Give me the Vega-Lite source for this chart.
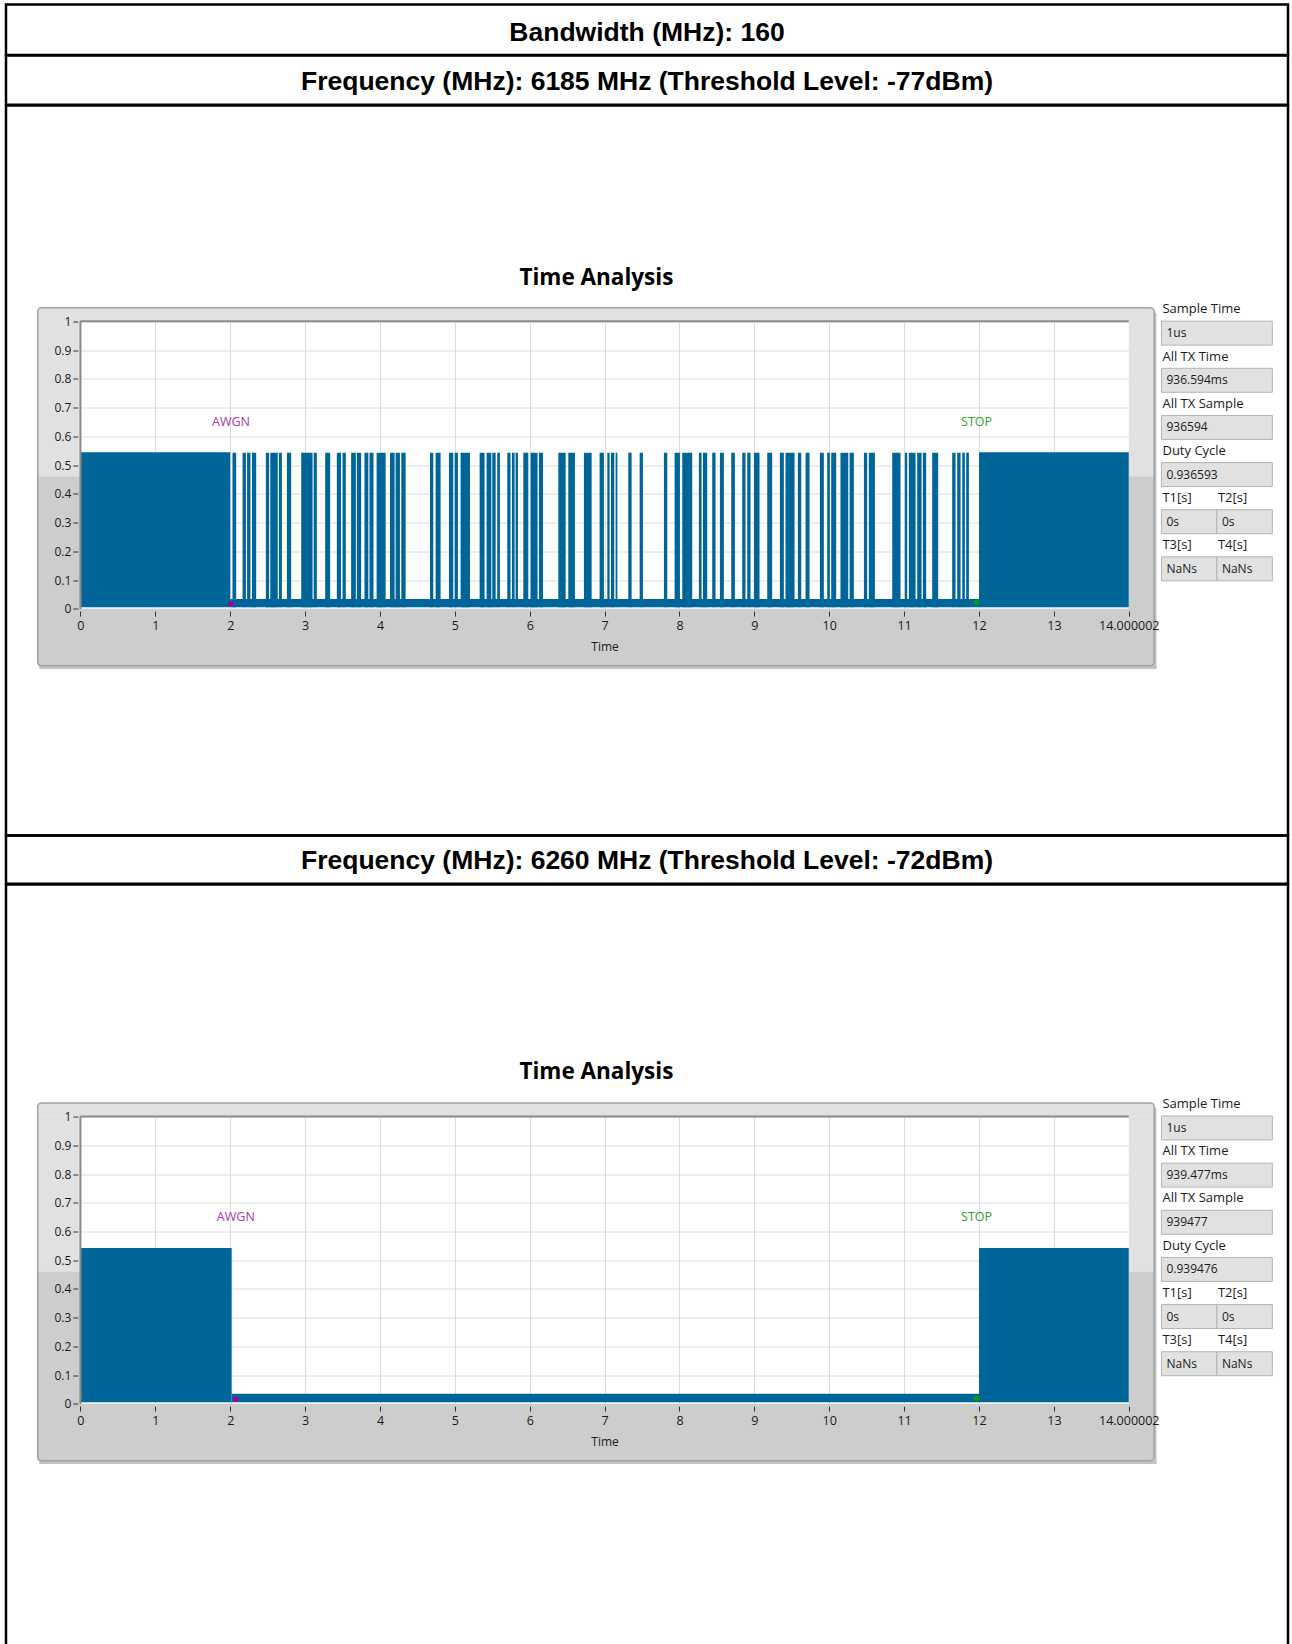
{
  "$schema": "https://vega.github.io/schema/vega-lite/v6.json",
  "background": "white",
  "padding": {"left": 4, "top": 2.5, "right": 0, "bottom": 0},
  "spacing": 0,
  "bounds": "flush",
  "config": {
    "font": "Open Sans",
    "view": {"stroke": "#000000", "strokeWidth": 2.5},
    "axis": {"labelFont": "Open Sans", "labelFontSize": 12, "labelColor": "#1a1a1a", "titleFont": "Open Sans", "titleFontSize": 12, "titleFontWeight": "normal", "titleColor": "#1a1a1a"}
  },
  "datasets": {
    "trace": [
      {"freq": 6185, "t0": 0, "t1": 2.0, "lo": 0.006, "hi": 0.545},
      {"freq": 6185, "t0": 2.0, "t1": 12.0, "lo": 0.006, "hi": 0.034},
      {"freq": 6185, "t0": 2.03, "t1": 2.08, "lo": 0.006, "hi": 0.543},
      {"freq": 6185, "t0": 2.165, "t1": 2.21, "lo": 0.006, "hi": 0.543},
      {"freq": 6185, "t0": 2.225, "t1": 2.27, "lo": 0.006, "hi": 0.543},
      {"freq": 6185, "t0": 2.29, "t1": 2.347, "lo": 0.006, "hi": 0.543},
      {"freq": 6185, "t0": 2.476, "t1": 2.52, "lo": 0.006, "hi": 0.543},
      {"freq": 6185, "t0": 2.535, "t1": 2.635, "lo": 0.006, "hi": 0.543},
      {"freq": 6185, "t0": 2.65, "t1": 2.69, "lo": 0.006, "hi": 0.543},
      {"freq": 6185, "t0": 2.757, "t1": 2.814, "lo": 0.006, "hi": 0.543},
      {"freq": 6185, "t0": 2.948, "t1": 3.1, "lo": 0.006, "hi": 0.543},
      {"freq": 6185, "t0": 3.115, "t1": 3.157, "lo": 0.006, "hi": 0.543},
      {"freq": 6185, "t0": 3.268, "t1": 3.335, "lo": 0.006, "hi": 0.543},
      {"freq": 6185, "t0": 3.424, "t1": 3.48, "lo": 0.006, "hi": 0.543},
      {"freq": 6185, "t0": 3.5, "t1": 3.544, "lo": 0.006, "hi": 0.543},
      {"freq": 6185, "t0": 3.615, "t1": 3.678, "lo": 0.006, "hi": 0.543},
      {"freq": 6185, "t0": 3.691, "t1": 3.749, "lo": 0.006, "hi": 0.543},
      {"freq": 6185, "t0": 3.793, "t1": 3.845, "lo": 0.006, "hi": 0.543},
      {"freq": 6185, "t0": 3.86, "t1": 3.914, "lo": 0.006, "hi": 0.543},
      {"freq": 6185, "t0": 3.955, "t1": 4.076, "lo": 0.006, "hi": 0.543},
      {"freq": 6185, "t0": 4.134, "t1": 4.196, "lo": 0.006, "hi": 0.543},
      {"freq": 6185, "t0": 4.209, "t1": 4.267, "lo": 0.006, "hi": 0.543},
      {"freq": 6185, "t0": 4.285, "t1": 4.343, "lo": 0.006, "hi": 0.543},
      {"freq": 6185, "t0": 4.668, "t1": 4.712, "lo": 0.006, "hi": 0.543},
      {"freq": 6185, "t0": 4.743, "t1": 4.81, "lo": 0.006, "hi": 0.543},
      {"freq": 6185, "t0": 4.921, "t1": 4.979, "lo": 0.006, "hi": 0.543},
      {"freq": 6185, "t0": 4.997, "t1": 5.041, "lo": 0.006, "hi": 0.543},
      {"freq": 6185, "t0": 5.077, "t1": 5.202, "lo": 0.006, "hi": 0.543},
      {"freq": 6185, "t0": 5.331, "t1": 5.397, "lo": 0.006, "hi": 0.543},
      {"freq": 6185, "t0": 5.424, "t1": 5.487, "lo": 0.006, "hi": 0.543},
      {"freq": 6185, "t0": 5.5, "t1": 5.545, "lo": 0.006, "hi": 0.543},
      {"freq": 6185, "t0": 5.566, "t1": 5.602, "lo": 0.006, "hi": 0.543},
      {"freq": 6185, "t0": 5.7, "t1": 5.744, "lo": 0.006, "hi": 0.543},
      {"freq": 6185, "t0": 5.762, "t1": 5.798, "lo": 0.006, "hi": 0.543},
      {"freq": 6185, "t0": 5.811, "t1": 5.843, "lo": 0.006, "hi": 0.543},
      {"freq": 6185, "t0": 5.914, "t1": 5.981, "lo": 0.006, "hi": 0.543},
      {"freq": 6185, "t0": 6.012, "t1": 6.105, "lo": 0.006, "hi": 0.543},
      {"freq": 6185, "t0": 6.123, "t1": 6.177, "lo": 0.006, "hi": 0.543},
      {"freq": 6185, "t0": 6.382, "t1": 6.48, "lo": 0.006, "hi": 0.543},
      {"freq": 6185, "t0": 6.515, "t1": 6.604, "lo": 0.006, "hi": 0.543},
      {"freq": 6185, "t0": 6.724, "t1": 6.827, "lo": 0.006, "hi": 0.543},
      {"freq": 6185, "t0": 6.933, "t1": 6.991, "lo": 0.006, "hi": 0.543},
      {"freq": 6185, "t0": 7.036, "t1": 7.067, "lo": 0.006, "hi": 0.543},
      {"freq": 6185, "t0": 7.085, "t1": 7.129, "lo": 0.006, "hi": 0.543},
      {"freq": 6185, "t0": 7.147, "t1": 7.17, "lo": 0.006, "hi": 0.543},
      {"freq": 6185, "t0": 7.316, "t1": 7.361, "lo": 0.006, "hi": 0.543},
      {"freq": 6185, "t0": 7.468, "t1": 7.512, "lo": 0.006, "hi": 0.543},
      {"freq": 6185, "t0": 7.792, "t1": 7.837, "lo": 0.006, "hi": 0.543},
      {"freq": 6185, "t0": 7.935, "t1": 8.006, "lo": 0.006, "hi": 0.543},
      {"freq": 6185, "t0": 8.037, "t1": 8.17, "lo": 0.006, "hi": 0.543},
      {"freq": 6185, "t0": 8.259, "t1": 8.295, "lo": 0.006, "hi": 0.543},
      {"freq": 6185, "t0": 8.313, "t1": 8.37, "lo": 0.006, "hi": 0.543},
      {"freq": 6185, "t0": 8.437, "t1": 8.482, "lo": 0.006, "hi": 0.543},
      {"freq": 6185, "t0": 8.54, "t1": 8.593, "lo": 0.006, "hi": 0.543},
      {"freq": 6185, "t0": 8.691, "t1": 8.74, "lo": 0.006, "hi": 0.543},
      {"freq": 6185, "t0": 8.838, "t1": 8.882, "lo": 0.006, "hi": 0.543},
      {"freq": 6185, "t0": 8.905, "t1": 8.949, "lo": 0.006, "hi": 0.543},
      {"freq": 6185, "t0": 8.994, "t1": 9.069, "lo": 0.006, "hi": 0.543},
      {"freq": 6185, "t0": 9.172, "t1": 9.238, "lo": 0.006, "hi": 0.543},
      {"freq": 6185, "t0": 9.341, "t1": 9.394, "lo": 0.006, "hi": 0.543},
      {"freq": 6185, "t0": 9.416, "t1": 9.537, "lo": 0.006, "hi": 0.543},
      {"freq": 6185, "t0": 9.581, "t1": 9.626, "lo": 0.006, "hi": 0.543},
      {"freq": 6185, "t0": 9.684, "t1": 9.737, "lo": 0.006, "hi": 0.543},
      {"freq": 6185, "t0": 9.875, "t1": 9.928, "lo": 0.006, "hi": 0.543},
      {"freq": 6185, "t0": 9.973, "t1": 10.008, "lo": 0.006, "hi": 0.543},
      {"freq": 6185, "t0": 10.026, "t1": 10.093, "lo": 0.006, "hi": 0.543},
      {"freq": 6185, "t0": 10.15, "t1": 10.254, "lo": 0.006, "hi": 0.543},
      {"freq": 6185, "t0": 10.272, "t1": 10.329, "lo": 0.006, "hi": 0.543},
      {"freq": 6185, "t0": 10.463, "t1": 10.507, "lo": 0.006, "hi": 0.543},
      {"freq": 6185, "t0": 10.529, "t1": 10.61, "lo": 0.006, "hi": 0.543},
      {"freq": 6185, "t0": 10.841, "t1": 10.952, "lo": 0.006, "hi": 0.543},
      {"freq": 6185, "t0": 11.01, "t1": 11.041, "lo": 0.006, "hi": 0.543},
      {"freq": 6185, "t0": 11.063, "t1": 11.153, "lo": 0.006, "hi": 0.543},
      {"freq": 6185, "t0": 11.175, "t1": 11.233, "lo": 0.006, "hi": 0.543},
      {"freq": 6185, "t0": 11.25, "t1": 11.295, "lo": 0.006, "hi": 0.543},
      {"freq": 6185, "t0": 11.375, "t1": 11.455, "lo": 0.006, "hi": 0.543},
      {"freq": 6185, "t0": 11.642, "t1": 11.687, "lo": 0.006, "hi": 0.543},
      {"freq": 6185, "t0": 11.709, "t1": 11.754, "lo": 0.006, "hi": 0.543},
      {"freq": 6185, "t0": 11.776, "t1": 11.811, "lo": 0.006, "hi": 0.543},
      {"freq": 6185, "t0": 11.829, "t1": 11.865, "lo": 0.006, "hi": 0.543},
      {"freq": 6185, "t0": 12.0, "t1": 14.000002, "lo": 0.006, "hi": 0.545},
      {"freq": 6260, "t0": 0, "t1": 2.02, "lo": 0.006, "hi": 0.543},
      {"freq": 6260, "t0": 2.02, "t1": 12.0, "lo": 0.006, "hi": 0.035},
      {"freq": 6260, "t0": 12.0, "t1": 14.000002, "lo": 0.006, "hi": 0.543}
    ],
    "markers": [
      {"freq": 6185, "name": "AWGN", "t": 2.01, "level": 0.017},
      {"freq": 6185, "name": "STOP", "t": 11.967, "level": 0.023},
      {"freq": 6260, "name": "AWGN", "t": 2.075, "level": 0.016},
      {"freq": 6260, "name": "STOP", "t": 11.967, "level": 0.02}
    ],
    "panel": [
      {"freq": 6185, "item": "Sample Time", "value": "1us", "group": "Sample Time", "side": "L", "span": "full"},
      {"freq": 6185, "item": "All TX Time", "value": "936.594ms", "group": "All TX Time", "side": "L", "span": "full"},
      {"freq": 6185, "item": "All TX Sample", "value": "936594", "group": "All TX Sample", "side": "L", "span": "full"},
      {"freq": 6185, "item": "Duty Cycle", "value": "0.936593", "group": "Duty Cycle", "side": "L", "span": "full"},
      {"freq": 6185, "item": "T1[s]", "value": "0s", "group": "T1/T2", "side": "L", "span": "half"},
      {"freq": 6185, "item": "T2[s]", "value": "0s", "group": "T1/T2", "side": "R", "span": "half"},
      {"freq": 6185, "item": "T3[s]", "value": "NaNs", "group": "T3/T4", "side": "L", "span": "half"},
      {"freq": 6185, "item": "T4[s]", "value": "NaNs", "group": "T3/T4", "side": "R", "span": "half"},
      {"freq": 6260, "item": "Sample Time", "value": "1us", "group": "Sample Time", "side": "L", "span": "full"},
      {"freq": 6260, "item": "All TX Time", "value": "939.477ms", "group": "All TX Time", "side": "L", "span": "full"},
      {"freq": 6260, "item": "All TX Sample", "value": "939477", "group": "All TX Sample", "side": "L", "span": "full"},
      {"freq": 6260, "item": "Duty Cycle", "value": "0.939476", "group": "Duty Cycle", "side": "L", "span": "full"},
      {"freq": 6260, "item": "T1[s]", "value": "0s", "group": "T1/T2", "side": "L", "span": "half"},
      {"freq": 6260, "item": "T2[s]", "value": "0s", "group": "T1/T2", "side": "R", "span": "half"},
      {"freq": 6260, "item": "T3[s]", "value": "NaNs", "group": "T3/T4", "side": "L", "span": "half"},
      {"freq": 6260, "item": "T4[s]", "value": "NaNs", "group": "T3/T4", "side": "R", "span": "half"}
    ]
  },
  "vconcat": [
    {
      "width": 1282, "height": 50.4,
      "view": {"stroke": "#000000", "strokeWidth": 2.5},
      "data": {"values": [{"label": "Bandwidth (MHz): 160"}]},
      "mark": {"type": "text", "font": "Liberation Sans", "fontWeight": "bold", "fontSize": 26.5, "color": "#000000", "dy": 3},
      "encoding": {"text": {"field": "label", "type": "nominal"}}
    },
    {
      "width": 1282, "height": 49.3,
      "view": {"stroke": "#000000", "strokeWidth": 2.5},
      "data": {"values": [{"label": "Frequency (MHz): 6185 MHz (Threshold Level: -77dBm)"}]},
      "mark": {"type": "text", "font": "Liberation Sans", "fontWeight": "bold", "fontSize": 26.5, "color": "#000000", "dy": 2},
      "encoding": {"text": {"field": "label", "type": "nominal"}}
    },
    {
      "width": 1282, "height": 729.9,
      "resolve": {"scale": {"x": "independent", "y": "independent"}, "axis": {"x": "independent", "y": "independent"}},
      "layer": [
        {
          "resolve": {"axis": {"x": "independent", "y": "independent"}},
          "layer": [
            {"data": {"values": [{}]}, "mark": {"type": "rect", "color": "#e1e1e1"},
             "encoding": {
               "x": {"datum": -0.571, "type": "quantitative", "scale": {"domain": [0, 14.000002], "range": [74.45, 1122.75], "nice": false, "zero": false},
                     "axis": {"orient": "top", "values": [0,1,2,3,4,5,6,7,8,9,10,11,12,13,14.000002], "grid": true, "gridColor": "#dcdcdc", "labels": false, "ticks": false, "domain": false, "title": null, "zindex": 0}},
               "x2": {"datum": 14.34},
               "y": {"datum": 1.047, "type": "quantitative", "scale": {"domain": [0, 1], "range": [503.4, 215.8], "nice": false, "zero": false},
                     "axis": {"orient": "left", "values": [0,0.1,0.2,0.3,0.4,0.5,0.6,0.7,0.8,0.9,1], "grid": true, "gridColor": "#dcdcdc", "labels": false, "ticks": false, "domain": false, "title": null, "zindex": 0}},
               "y2": {"datum": 1}
             }},
            {"data": {"values": [{}]}, "mark": {"type": "rect", "color": "#e1e1e1"},
             "encoding": {"x": {"datum": -0.571, "type": "quantitative", "axis": null}, "x2": {"datum": 0}, "y": {"datum": 1, "type": "quantitative", "axis": null}, "y2": {"datum": 0.461}}},
            {"data": {"values": [{}]}, "mark": {"type": "rect", "color": "#e1e1e1"},
             "encoding": {"x": {"datum": 14.000002, "type": "quantitative", "axis": null}, "x2": {"datum": 14.34}, "y": {"datum": 1, "type": "quantitative", "axis": null}, "y2": {"datum": 0.461}}},
            {"data": {"values": [{}]}, "mark": {"type": "rect", "color": "#cdcdcd"},
             "encoding": {"x": {"datum": -0.571, "type": "quantitative", "axis": null}, "x2": {"datum": 0}, "y": {"datum": 0.461, "type": "quantitative", "axis": null}, "y2": {"datum": 0}}},
            {"data": {"values": [{}]}, "mark": {"type": "rect", "color": "#cdcdcd"},
             "encoding": {"x": {"datum": 14.000002, "type": "quantitative", "axis": null}, "x2": {"datum": 14.34}, "y": {"datum": 0.461, "type": "quantitative", "axis": null}, "y2": {"datum": 0}}},
            {"data": {"values": [{}]}, "mark": {"type": "rect", "color": "#cdcdcd"},
             "encoding": {"x": {"datum": -0.571, "type": "quantitative", "axis": null}, "x2": {"datum": 14.34}, "y": {"datum": 0, "type": "quantitative", "axis": null}, "y2": {"datum": -0.198}}},
            {"data": {"values": [{}]}, "mark": {"type": "rect", "color": "#c2c2c2"},
             "encoding": {"x": {"datum": -0.55, "type": "quantitative", "axis": null}, "x2": {"datum": 14.37}, "y": {"datum": -0.198, "type": "quantitative", "axis": null}, "y2": {"datum": -0.209}}},
            {"data": {"values": [{}]}, "mark": {"type": "rect", "color": "#c2c2c2"},
             "encoding": {"x": {"datum": 14.34, "type": "quantitative", "axis": null}, "x2": {"datum": 14.37}, "y": {"datum": 1.03, "type": "quantitative", "axis": null}, "y2": {"datum": -0.209}}},
            {"data": {"values": [{}]}, "mark": {"type": "rect", "filled": false, "stroke": "#a0a0a0", "strokeWidth": 1.5, "cornerRadius": 4},
             "encoding": {"x": {"datum": -0.571, "type": "quantitative", "axis": null}, "x2": {"datum": 14.34}, "y": {"datum": 1.047, "type": "quantitative", "axis": null}, "y2": {"datum": -0.198}}},
            {"data": {"name": "trace"}, "transform": [{"filter": "datum.freq == 6185"}],
             "mark": {"type": "rect", "color": "#006699"},
             "encoding": {
               "x": {"field": "t0", "type": "quantitative",
                     "axis": {"orient": "bottom", "values": [0,1,2,3,4,5,6,7,8,9,10,11,12,13,14.000002], "format": ".8~r", "grid": false, "domain": false, "tickColor": "#333333", "tickSize": 5, "labelFlush": false, "labelOverlap": false, "labelPadding": 3, "labelFontSize": 12.5, "offset": -224.3, "title": "Time", "titlePadding": 10, "zindex": 1}},
               "x2": {"field": "t1"},
               "y": {"field": "lo", "type": "quantitative",
                     "axis": {"orient": "left", "values": [0,0.1,0.2,0.3,0.4,0.5,0.6,0.7,0.8,0.9,1], "format": "~g", "grid": false, "domain": false, "tickColor": "#333333", "tickSize": 5, "labelPadding": 2, "labelOverlap": false, "offset": -71.75, "title": null, "zindex": 1}},
               "y2": {"field": "hi"}
             }},
            {"data": {"values": [{}]}, "mark": {"type": "rule", "color": "#8a8a8a", "strokeWidth": 2},
             "encoding": {"x": {"datum": 0, "type": "quantitative", "axis": null}, "x2": {"datum": 14.000002}, "y": {"datum": 1, "type": "quantitative", "axis": null}}},
            {"data": {"values": [{}]}, "mark": {"type": "rule", "color": "#8a8a8a", "strokeWidth": 2},
             "encoding": {"x": {"datum": 0, "type": "quantitative", "axis": null}, "y": {"datum": 0, "type": "quantitative", "axis": null}, "y2": {"datum": 1}}},
            {"data": {"name": "markers"}, "transform": [{"filter": "datum.freq == 6185"}],
             "mark": {"type": "text", "fontSize": 12.5, "font": "Open Sans"},
             "encoding": {
               "x": {"field": "t", "type": "quantitative", "axis": null},
               "y": {"datum": 0.649, "type": "quantitative", "axis": null},
               "text": {"field": "name", "type": "nominal"},
               "color": {"field": "name", "type": "nominal", "scale": {"domain": ["AWGN", "STOP"], "range": ["#a43aa8", "#2ea02e"]}, "legend": null}
             }},
            {"data": {"name": "markers"}, "transform": [{"filter": "datum.freq == 6185"}],
             "mark": {"type": "circle", "size": 30, "opacity": 1},
             "encoding": {
               "x": {"field": "t", "type": "quantitative", "axis": null},
               "y": {"field": "level", "type": "quantitative", "axis": null},
               "fill": {"field": "name", "type": "nominal", "scale": {"domain": ["AWGN", "STOP"], "range": ["#a000a0", "#00a000"]}, "legend": null}
             }},
            {"data": {"values": [{"title": "Time Analysis"}]},
             "mark": {"type": "text", "font": "Open Sans", "fontWeight": "bold", "fontSize": 22.5, "color": "#000000"},
             "encoding": {"x": {"datum": 6.89, "type": "quantitative", "axis": null}, "y": {"datum": 1.152, "type": "quantitative", "axis": null}, "text": {"field": "title", "type": "nominal"}}}
          ]
        },
        {
          "data": {"name": "panel"},
          "transform": [{"filter": "datum.freq == 6185"}],
          "layer": [
            {"transform": [{"filter": "datum.span == 'full'"}],
             "mark": {"type": "bar", "height": 24, "yOffset": 11.9, "fill": "#e1e1e1", "stroke": "#b4b4b4", "strokeWidth": 1},
             "encoding": {
               "x": {"datum": 0, "type": "quantitative", "scale": {"domain": [0, 2], "range": [1155.45, 1266.35], "nice": false, "zero": false}, "axis": null},
               "x2": {"datum": 2},
               "y": {"field": "group", "type": "nominal", "scale": {"domain": ["Sample Time", "All TX Time", "All TX Sample", "Duty Cycle", "T1/T2", "T3/T4"], "range": [192.2, 475.0], "paddingInner": 0, "paddingOuter": 0}, "axis": null}
             }},
            {"transform": [{"filter": "datum.span == 'half' && datum.side == 'L'"}],
             "mark": {"type": "bar", "height": 24, "yOffset": 11.9, "fill": "#e1e1e1", "stroke": "#b4b4b4", "strokeWidth": 1},
             "encoding": {"x": {"datum": 0, "type": "quantitative"}, "x2": {"datum": 1}, "y": {"field": "group", "type": "nominal"}}},
            {"transform": [{"filter": "datum.span == 'half' && datum.side == 'R'"}],
             "mark": {"type": "bar", "height": 24, "yOffset": 11.9, "fill": "#e1e1e1", "stroke": "#b4b4b4", "strokeWidth": 1},
             "encoding": {"x": {"datum": 1, "type": "quantitative"}, "x2": {"datum": 2}, "y": {"field": "group", "type": "nominal"}}},
            {"transform": [{"filter": "datum.side == 'L'"}],
             "mark": {"type": "text", "align": "left", "dx": 1, "dy": -11.9, "fontSize": 13, "color": "#1a1a1a"},
             "encoding": {"x": {"datum": 0, "type": "quantitative"}, "y": {"field": "group", "type": "nominal"}, "text": {"field": "item", "type": "nominal"}}},
            {"transform": [{"filter": "datum.side == 'R'"}],
             "mark": {"type": "text", "align": "left", "dx": 1, "dy": -11.9, "fontSize": 13, "color": "#1a1a1a"},
             "encoding": {"x": {"datum": 1, "type": "quantitative"}, "y": {"field": "group", "type": "nominal"}, "text": {"field": "item", "type": "nominal"}}},
            {"transform": [{"filter": "datum.side == 'L'"}],
             "mark": {"type": "text", "align": "left", "dx": 5, "dy": 11.9, "fontSize": 12, "color": "#1a1a1a"},
             "encoding": {"x": {"datum": 0, "type": "quantitative"}, "y": {"field": "group", "type": "nominal"}, "text": {"field": "value", "type": "nominal"}}},
            {"transform": [{"filter": "datum.side == 'R'"}],
             "mark": {"type": "text", "align": "left", "dx": 5, "dy": 11.9, "fontSize": 12, "color": "#1a1a1a"},
             "encoding": {"x": {"datum": 1, "type": "quantitative"}, "y": {"field": "group", "type": "nominal"}, "text": {"field": "value", "type": "nominal"}}}
          ]
        }
      ]
    },
    {
      "width": 1282, "height": 48.2,
      "view": {"stroke": "#000000", "strokeWidth": 2.5},
      "data": {"values": [{"label": "Frequency (MHz): 6260 MHz (Threshold Level: -72dBm)"}]},
      "mark": {"type": "text", "font": "Liberation Sans", "fontWeight": "bold", "fontSize": 26.5, "color": "#000000", "dy": 1.5},
      "encoding": {"text": {"field": "label", "type": "nominal"}}
    },
    {
      "width": 1282, "height": 775,
      "resolve": {"scale": {"x": "independent", "y": "independent"}, "axis": {"x": "independent", "y": "independent"}},
      "layer": [
        {
          "resolve": {"axis": {"x": "independent", "y": "independent"}},
          "layer": [
            {"data": {"values": [{}]}, "mark": {"type": "rect", "color": "#e1e1e1"},
             "encoding": {
               "x": {"datum": -0.571, "type": "quantitative", "scale": {"domain": [0, 14.000002], "range": [74.45, 1122.75], "nice": false, "zero": false},
                     "axis": {"orient": "top", "values": [0,1,2,3,4,5,6,7,8,9,10,11,12,13,14.000002], "grid": true, "gridColor": "#dcdcdc", "labels": false, "ticks": false, "domain": false, "title": null, "zindex": 0}},
               "x2": {"datum": 14.34},
               "y": {"datum": 1.047, "type": "quantitative", "scale": {"domain": [0, 1], "range": [519.4, 232.1], "nice": false, "zero": false},
                     "axis": {"orient": "left", "values": [0,0.1,0.2,0.3,0.4,0.5,0.6,0.7,0.8,0.9,1], "grid": true, "gridColor": "#dcdcdc", "labels": false, "ticks": false, "domain": false, "title": null, "zindex": 0}},
               "y2": {"datum": 1}
             }},
            {"data": {"values": [{}]}, "mark": {"type": "rect", "color": "#e1e1e1"},
             "encoding": {"x": {"datum": -0.571, "type": "quantitative", "axis": null}, "x2": {"datum": 0}, "y": {"datum": 1, "type": "quantitative", "axis": null}, "y2": {"datum": 0.461}}},
            {"data": {"values": [{}]}, "mark": {"type": "rect", "color": "#e1e1e1"},
             "encoding": {"x": {"datum": 14.000002, "type": "quantitative", "axis": null}, "x2": {"datum": 14.34}, "y": {"datum": 1, "type": "quantitative", "axis": null}, "y2": {"datum": 0.461}}},
            {"data": {"values": [{}]}, "mark": {"type": "rect", "color": "#cdcdcd"},
             "encoding": {"x": {"datum": -0.571, "type": "quantitative", "axis": null}, "x2": {"datum": 0}, "y": {"datum": 0.461, "type": "quantitative", "axis": null}, "y2": {"datum": 0}}},
            {"data": {"values": [{}]}, "mark": {"type": "rect", "color": "#cdcdcd"},
             "encoding": {"x": {"datum": 14.000002, "type": "quantitative", "axis": null}, "x2": {"datum": 14.34}, "y": {"datum": 0.461, "type": "quantitative", "axis": null}, "y2": {"datum": 0}}},
            {"data": {"values": [{}]}, "mark": {"type": "rect", "color": "#cdcdcd"},
             "encoding": {"x": {"datum": -0.571, "type": "quantitative", "axis": null}, "x2": {"datum": 14.34}, "y": {"datum": 0, "type": "quantitative", "axis": null}, "y2": {"datum": -0.198}}},
            {"data": {"values": [{}]}, "mark": {"type": "rect", "color": "#c2c2c2"},
             "encoding": {"x": {"datum": -0.55, "type": "quantitative", "axis": null}, "x2": {"datum": 14.37}, "y": {"datum": -0.198, "type": "quantitative", "axis": null}, "y2": {"datum": -0.209}}},
            {"data": {"values": [{}]}, "mark": {"type": "rect", "color": "#c2c2c2"},
             "encoding": {"x": {"datum": 14.34, "type": "quantitative", "axis": null}, "x2": {"datum": 14.37}, "y": {"datum": 1.03, "type": "quantitative", "axis": null}, "y2": {"datum": -0.209}}},
            {"data": {"values": [{}]}, "mark": {"type": "rect", "filled": false, "stroke": "#a0a0a0", "strokeWidth": 1.5, "cornerRadius": 4},
             "encoding": {"x": {"datum": -0.571, "type": "quantitative", "axis": null}, "x2": {"datum": 14.34}, "y": {"datum": 1.047, "type": "quantitative", "axis": null}, "y2": {"datum": -0.198}}},
            {"data": {"name": "trace"}, "transform": [{"filter": "datum.freq == 6260"}],
             "mark": {"type": "rect", "color": "#006699"},
             "encoding": {
               "x": {"field": "t0", "type": "quantitative",
                     "axis": {"orient": "bottom", "values": [0,1,2,3,4,5,6,7,8,9,10,11,12,13,14.000002], "format": ".8~r", "grid": false, "domain": false, "tickColor": "#333333", "tickSize": 5, "labelFlush": false, "labelOverlap": false, "labelPadding": 3, "labelFontSize": 12.5, "offset": -253.4, "title": "Time", "titlePadding": 10, "zindex": 1}},
               "x2": {"field": "t1"},
               "y": {"field": "lo", "type": "quantitative",
                     "axis": {"orient": "left", "values": [0,0.1,0.2,0.3,0.4,0.5,0.6,0.7,0.8,0.9,1], "format": "~g", "grid": false, "domain": false, "tickColor": "#333333", "tickSize": 5, "labelPadding": 2, "labelOverlap": false, "offset": -71.75, "title": null, "zindex": 1}},
               "y2": {"field": "hi"}
             }},
            {"data": {"values": [{}]}, "mark": {"type": "rule", "color": "#8a8a8a", "strokeWidth": 2},
             "encoding": {"x": {"datum": 0, "type": "quantitative", "axis": null}, "x2": {"datum": 14.000002}, "y": {"datum": 1, "type": "quantitative", "axis": null}}},
            {"data": {"values": [{}]}, "mark": {"type": "rule", "color": "#8a8a8a", "strokeWidth": 2},
             "encoding": {"x": {"datum": 0, "type": "quantitative", "axis": null}, "y": {"datum": 0, "type": "quantitative", "axis": null}, "y2": {"datum": 1}}},
            {"data": {"name": "markers"}, "transform": [{"filter": "datum.freq == 6260"}],
             "mark": {"type": "text", "fontSize": 12.5, "font": "Open Sans"},
             "encoding": {
               "x": {"field": "t", "type": "quantitative", "axis": null},
               "y": {"datum": 0.649, "type": "quantitative", "axis": null},
               "text": {"field": "name", "type": "nominal"},
               "color": {"field": "name", "type": "nominal", "scale": {"domain": ["AWGN", "STOP"], "range": ["#a43aa8", "#2ea02e"]}, "legend": null}
             }},
            {"data": {"name": "markers"}, "transform": [{"filter": "datum.freq == 6260"}],
             "mark": {"type": "circle", "size": 30, "opacity": 1},
             "encoding": {
               "x": {"field": "t", "type": "quantitative", "axis": null},
               "y": {"field": "level", "type": "quantitative", "axis": null},
               "fill": {"field": "name", "type": "nominal", "scale": {"domain": ["AWGN", "STOP"], "range": ["#a000a0", "#00a000"]}, "legend": null}
             }},
            {"data": {"values": [{"title": "Time Analysis"}]},
             "mark": {"type": "text", "font": "Open Sans", "fontWeight": "bold", "fontSize": 22.5, "color": "#000000"},
             "encoding": {"x": {"datum": 6.89, "type": "quantitative", "axis": null}, "y": {"datum": 1.156, "type": "quantitative", "axis": null}, "text": {"field": "title", "type": "nominal"}}}
          ]
        },
        {
          "data": {"name": "panel"},
          "transform": [{"filter": "datum.freq == 6260"}],
          "layer": [
            {"transform": [{"filter": "datum.span == 'full'"}],
             "mark": {"type": "bar", "height": 24, "yOffset": 11.9, "fill": "#e1e1e1", "stroke": "#b4b4b4", "strokeWidth": 1},
             "encoding": {
               "x": {"datum": 0, "type": "quantitative", "scale": {"domain": [0, 2], "range": [1155.45, 1266.35], "nice": false, "zero": false}, "axis": null},
               "x2": {"datum": 2},
               "y": {"field": "group", "type": "nominal", "scale": {"domain": ["Sample Time", "All TX Time", "All TX Sample", "Duty Cycle", "T1/T2", "T3/T4"], "range": [208.0, 490.9], "paddingInner": 0, "paddingOuter": 0}, "axis": null}
             }},
            {"transform": [{"filter": "datum.span == 'half' && datum.side == 'L'"}],
             "mark": {"type": "bar", "height": 24, "yOffset": 11.9, "fill": "#e1e1e1", "stroke": "#b4b4b4", "strokeWidth": 1},
             "encoding": {"x": {"datum": 0, "type": "quantitative"}, "x2": {"datum": 1}, "y": {"field": "group", "type": "nominal"}}},
            {"transform": [{"filter": "datum.span == 'half' && datum.side == 'R'"}],
             "mark": {"type": "bar", "height": 24, "yOffset": 11.9, "fill": "#e1e1e1", "stroke": "#b4b4b4", "strokeWidth": 1},
             "encoding": {"x": {"datum": 1, "type": "quantitative"}, "x2": {"datum": 2}, "y": {"field": "group", "type": "nominal"}}},
            {"transform": [{"filter": "datum.side == 'L'"}],
             "mark": {"type": "text", "align": "left", "dx": 1, "dy": -11.9, "fontSize": 13, "color": "#1a1a1a"},
             "encoding": {"x": {"datum": 0, "type": "quantitative"}, "y": {"field": "group", "type": "nominal"}, "text": {"field": "item", "type": "nominal"}}},
            {"transform": [{"filter": "datum.side == 'R'"}],
             "mark": {"type": "text", "align": "left", "dx": 1, "dy": -11.9, "fontSize": 13, "color": "#1a1a1a"},
             "encoding": {"x": {"datum": 1, "type": "quantitative"}, "y": {"field": "group", "type": "nominal"}, "text": {"field": "item", "type": "nominal"}}},
            {"transform": [{"filter": "datum.side == 'L'"}],
             "mark": {"type": "text", "align": "left", "dx": 5, "dy": 11.9, "fontSize": 12, "color": "#1a1a1a"},
             "encoding": {"x": {"datum": 0, "type": "quantitative"}, "y": {"field": "group", "type": "nominal"}, "text": {"field": "value", "type": "nominal"}}},
            {"transform": [{"filter": "datum.side == 'R'"}],
             "mark": {"type": "text", "align": "left", "dx": 5, "dy": 11.9, "fontSize": 12, "color": "#1a1a1a"},
             "encoding": {"x": {"datum": 1, "type": "quantitative"}, "y": {"field": "group", "type": "nominal"}, "text": {"field": "value", "type": "nominal"}}}
          ]
        }
      ]
    }
  ]
}
